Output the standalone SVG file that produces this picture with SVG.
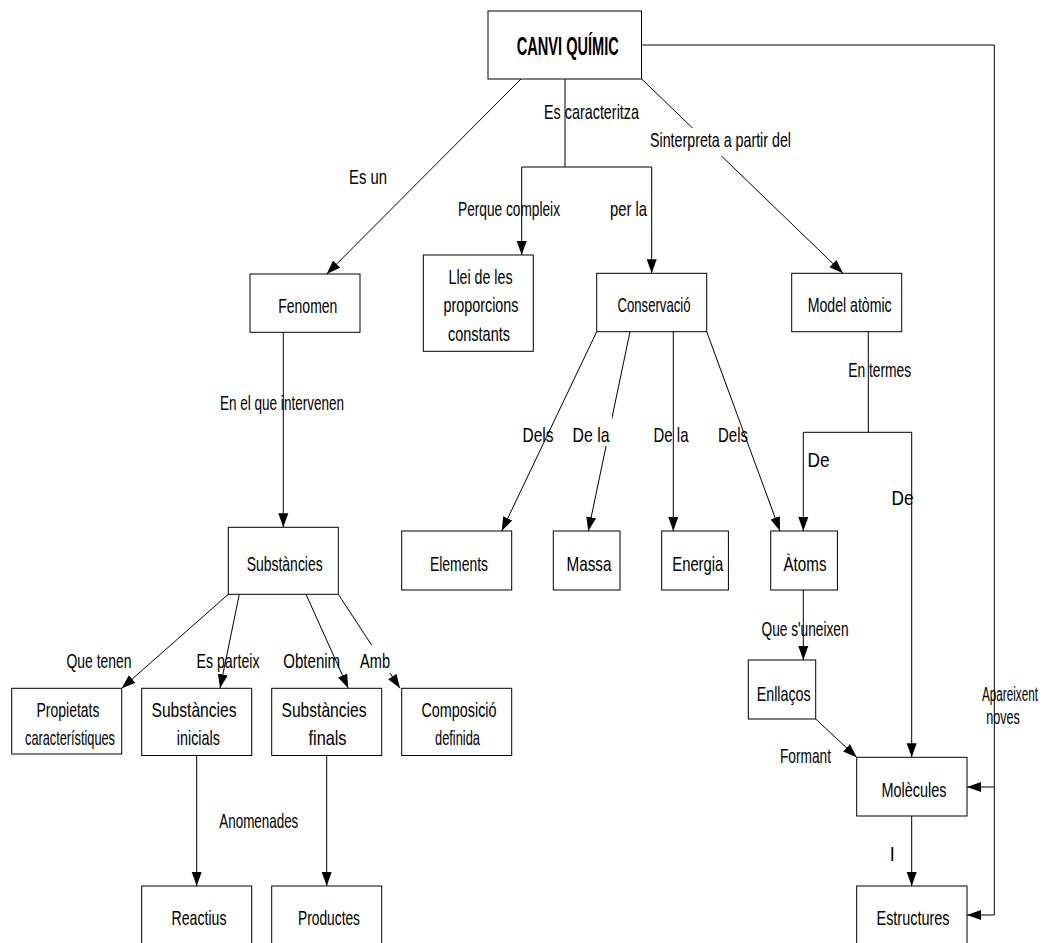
<svg xmlns="http://www.w3.org/2000/svg" width="1045" height="943" viewBox="0 0 1045 943">
<style>
.box{fill:#fff;stroke:#000;stroke-width:1}
.t{font-family:"Liberation Sans",Arial,sans-serif;font-size:21px;fill:#000;text-anchor:middle}
.title{font-family:"Liberation Sans",Arial,sans-serif;font-size:26px;font-weight:bold;fill:#000;text-anchor:middle}
.c{fill:none;stroke:#000;stroke-width:1}
.bg{fill:#fff;stroke:none}
</style>
<defs>
<marker id="ah" markerUnits="userSpaceOnUse" markerWidth="15" markerHeight="12" refX="14" refY="5.5" orient="auto">
<path d="M0,0.5 L14,5.5 L0,10.5 z" fill="#000"/>
</marker>
</defs>
<rect width="1045" height="943" fill="#fff"/>
<g id="connectors">
<path class="c" d="M521,79 L326.7,274" marker-end="url(#ah)"/>
<path class="c" d="M565,79 V167 M521.7,167 H651.7"/>
<path class="c" d="M521.7,167 V255" marker-end="url(#ah)"/>
<path class="c" d="M651.7,167 V273.3" marker-end="url(#ah)"/>
<path class="c" d="M641.7,79 L843,273.3" marker-end="url(#ah)"/>
<path class="c" d="M641.7,45 H994.3 V915"/>
<path class="c" d="M994.3,787 H967" marker-end="url(#ah)"/>
<path class="c" d="M994.3,915 H967" marker-end="url(#ah)"/>
<path class="c" d="M283.3,332.3 V527.3" marker-end="url(#ah)"/>
<path class="c" d="M596.7,331.7 L501.7,531" marker-end="url(#ah)"/>
<path class="c" d="M630,331.7 L588.3,531" marker-end="url(#ah)"/>
<path class="c" d="M673.3,331.7 V531" marker-end="url(#ah)"/>
<path class="c" d="M706.7,331.7 L780,531" marker-end="url(#ah)"/>
<path class="c" d="M868.3,331.7 V432.3 M803.3,432.3 H911.7"/>
<path class="c" d="M803.3,432.3 V531" marker-end="url(#ah)"/>
<path class="c" d="M911.7,432.3 V757.3" marker-end="url(#ah)"/>
<path class="c" d="M803.3,590 V660" marker-end="url(#ah)"/>
<path class="c" d="M815.7,719 L856.7,757.3" marker-end="url(#ah)"/>
<path class="c" d="M911.7,816 V886" marker-end="url(#ah)"/>
<path class="c" d="M228.3,594.3 L121.7,688.3" marker-end="url(#ah)"/>
<path class="c" d="M239.3,594.3 L220,688.3" marker-end="url(#ah)"/>
<path class="c" d="M306,594.3 L348.3,688.3" marker-end="url(#ah)"/>
<path class="c" d="M338.3,594.3 L400,688.3" marker-end="url(#ah)"/>
<path class="c" d="M196.7,755.5 V886" marker-end="url(#ah)"/>
<path class="c" d="M326.7,755.5 V886" marker-end="url(#ah)"/>
</g>
<g id="connector-labels">
<text class="t" x="591.5" y="119" textLength="95" lengthAdjust="spacingAndGlyphs">Es caracteritza</text>
<rect class="bg" x="648" y="128" width="144" height="28"/>
<text class="t" x="720.5" y="147" textLength="141" lengthAdjust="spacingAndGlyphs">Sinterpreta a partir del</text>
<text class="t" x="368" y="184" textLength="38" lengthAdjust="spacingAndGlyphs">Es un</text>
<text class="t" x="509" y="216" textLength="102" lengthAdjust="spacingAndGlyphs">Perque compleix</text>
<text class="t" x="628.5" y="216" textLength="37" lengthAdjust="spacingAndGlyphs">per la</text>
<text class="t" x="282" y="410" textLength="124" lengthAdjust="spacingAndGlyphs">En el que intervenen</text>
<text class="t" x="879.7" y="377" textLength="63" lengthAdjust="spacingAndGlyphs">En termes</text>
<text class="t" x="538" y="442" textLength="31" lengthAdjust="spacingAndGlyphs">Dels</text>
<rect class="bg" x="572" y="402" width="40" height="44"/>
<text class="t" x="591" y="442" textLength="37" lengthAdjust="spacingAndGlyphs">De la</text>
<text class="t" x="671" y="442" textLength="35" lengthAdjust="spacingAndGlyphs">De la</text>
<text class="t" x="733" y="442" textLength="30" lengthAdjust="spacingAndGlyphs">Dels</text>
<text class="t" x="818.5" y="467" textLength="22" lengthAdjust="spacingAndGlyphs">De</text>
<text class="t" x="902.5" y="505" textLength="22" lengthAdjust="spacingAndGlyphs">De</text>
<text class="t" x="99" y="668" textLength="65" lengthAdjust="spacingAndGlyphs">Que tenen</text>
<text class="t" x="228" y="668" textLength="63" lengthAdjust="spacingAndGlyphs">Es parteix</text>
<text class="t" x="311.7" y="668" textLength="57" lengthAdjust="spacingAndGlyphs">Obtenim</text>
<rect class="bg" x="358" y="645" width="34" height="28"/>
<text class="t" x="375" y="668" textLength="30" lengthAdjust="spacingAndGlyphs">Amb</text>
<text class="t" x="805" y="636" textLength="87" lengthAdjust="spacingAndGlyphs">Que s'uneixen</text>
<text class="t" x="805.5" y="763" textLength="51" lengthAdjust="spacingAndGlyphs">Formant</text>
<text class="t" x="892.3" y="861" textLength="5" lengthAdjust="spacingAndGlyphs">I</text>
<text class="t" transform="translate(1010,701) scale(0.56,1)">Apareixent</text>
<text class="t" transform="translate(1003,724) scale(0.6,1)">noves</text>
<text class="t" x="258.8" y="828" textLength="79" lengthAdjust="spacingAndGlyphs">Anomenades</text>
</g>
<g id="n-canvi"><rect class="box" x="488" y="11" width="153.5" height="68"/><text class="title" x="567.8" y="55" textLength="102" lengthAdjust="spacingAndGlyphs">CANVI QUÍMIC</text></g>
<g id="n-fenomen"><rect class="box" x="250" y="274" width="110" height="58.3"/><text class="t" x="307.8" y="312.5" textLength="59" lengthAdjust="spacingAndGlyphs">Fenomen</text></g>
<g id="n-llei"><rect class="box" x="423.3" y="255" width="110" height="96.3"/>
<text class="t" x="480.5" y="284" textLength="64" lengthAdjust="spacingAndGlyphs">Llei de les</text>
<text class="t" x="481" y="312" textLength="75" lengthAdjust="spacingAndGlyphs">proporcions</text>
<text class="t" x="479" y="341" textLength="62" lengthAdjust="spacingAndGlyphs">constants</text></g>
<g id="n-conservacio"><rect class="box" x="596.7" y="273.3" width="110" height="58.4"/><text class="t" x="654" y="312" textLength="73" lengthAdjust="spacingAndGlyphs">Conservació</text></g>
<g id="n-model"><rect class="box" x="791.7" y="273.3" width="110" height="58.4"/><text class="t" x="849.7" y="312" textLength="84" lengthAdjust="spacingAndGlyphs">Model atòmic</text></g>
<g id="n-elements"><rect class="box" x="401.7" y="531" width="110" height="59"/><text class="t" x="459" y="570.5" textLength="58" lengthAdjust="spacingAndGlyphs">Elements</text></g>
<g id="n-massa"><rect class="box" x="553.3" y="531" width="66.7" height="59"/><text class="t" x="589" y="570.5" textLength="45" lengthAdjust="spacingAndGlyphs">Massa</text></g>
<g id="n-energia"><rect class="box" x="661.7" y="531" width="66.7" height="59"/><text class="t" x="697.8" y="570.5" textLength="51" lengthAdjust="spacingAndGlyphs">Energia</text></g>
<g id="n-atoms"><rect class="box" x="770.7" y="531" width="66.7" height="59"/><text class="t" x="805" y="570.5" textLength="43" lengthAdjust="spacingAndGlyphs">Àtoms</text></g>
<g id="n-substancies"><rect class="box" x="228.3" y="527.3" width="110" height="67"/><text class="t" x="284.7" y="570.5" textLength="76" lengthAdjust="spacingAndGlyphs">Substàncies</text></g>
<g id="n-propietats"><rect class="box" x="11.7" y="688.3" width="110" height="65.7"/>
<text class="t" x="68" y="717" textLength="63" lengthAdjust="spacingAndGlyphs">Propietats</text>
<text class="t" x="70" y="744.5" textLength="90" lengthAdjust="spacingAndGlyphs">característiques</text></g>
<g id="n-inicials"><rect class="box" x="141.7" y="688.3" width="110" height="67.2"/>
<text class="t" x="194" y="717" textLength="85" lengthAdjust="spacingAndGlyphs">Substàncies</text>
<text class="t" x="198.3" y="744.5" textLength="43" lengthAdjust="spacingAndGlyphs">inicials</text></g>
<g id="n-finals"><rect class="box" x="271.7" y="688.3" width="110" height="67.2"/>
<text class="t" x="324" y="717" textLength="85" lengthAdjust="spacingAndGlyphs">Substàncies</text>
<text class="t" x="327.5" y="744.5" textLength="38" lengthAdjust="spacingAndGlyphs">finals</text></g>
<g id="n-composicio"><rect class="box" x="401.7" y="688.3" width="110" height="67.2"/>
<text class="t" x="459" y="717" textLength="75" lengthAdjust="spacingAndGlyphs">Composició</text>
<text class="t" x="457.5" y="744.5" textLength="45" lengthAdjust="spacingAndGlyphs">definida</text></g>
<g id="n-enllacos"><rect class="box" x="748.3" y="660" width="67.4" height="59"/><text class="t" x="783.7" y="701" textLength="54" lengthAdjust="spacingAndGlyphs">Enllaços</text></g>
<g id="n-molecules"><rect class="box" x="856.7" y="757.3" width="110.3" height="58.7"/><text class="t" x="914" y="796.5" textLength="65" lengthAdjust="spacingAndGlyphs">Molècules</text></g>
<g id="n-estructures"><rect class="box" x="856.7" y="886" width="110.3" height="70"/><text class="t" x="913" y="925" textLength="73" lengthAdjust="spacingAndGlyphs">Estructures</text></g>
<g id="n-reactius"><rect class="box" x="141.7" y="886" width="110" height="70"/><text class="t" x="199" y="925" textLength="55" lengthAdjust="spacingAndGlyphs">Reactius</text></g>
<g id="n-productes"><rect class="box" x="271.7" y="886" width="110" height="70"/><text class="t" x="329" y="925" textLength="62" lengthAdjust="spacingAndGlyphs">Productes</text></g>
</svg>
